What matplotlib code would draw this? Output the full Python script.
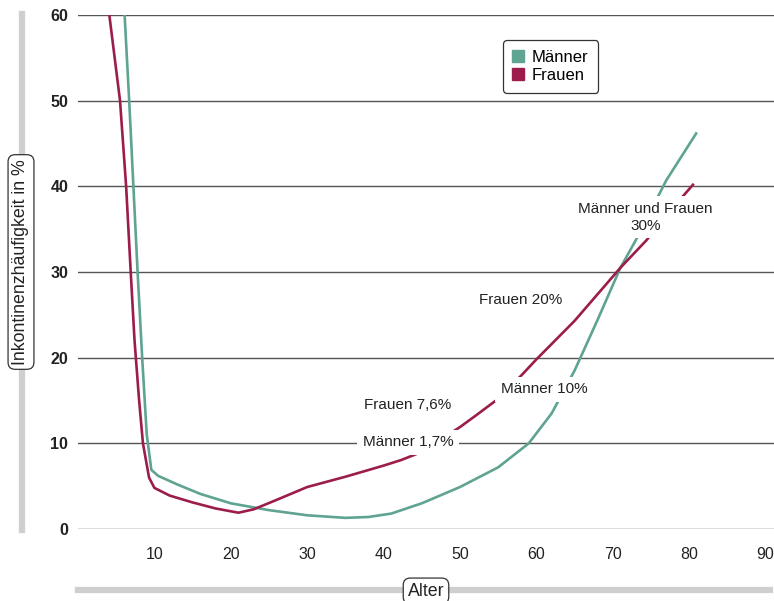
import matplotlib.pyplot as plt
from matplotlib.lines import Line2D

plt.rcParams['font.family'] = ['Liberation Sans', 'DejaVu Sans']

# Männer curve (age, prevalence %)
maenner_alter = [6.1, 6.7, 7.25, 7.8, 8.4, 9.0, 9.6, 10.5, 13, 16, 20, 25, 30, 35, 38, 41,
                 45, 50, 55, 59, 62, 65, 68, 71, 73, 77, 81]
maenner_wert = [60, 50, 40, 30, 20, 11, 6.9, 6.2, 5.2, 4.1, 3.0, 2.2, 1.6, 1.3, 1.4, 1.8,
                3.0, 4.9, 7.2, 10.0, 13.5, 18.5, 24.4, 30.5, 33.7, 40.7, 46.3]

# Frauen curve
frauen_alter = [4.1, 5.5, 6.3, 6.9, 7.4, 8.0, 8.5, 9.3, 10, 12, 15, 18, 21, 23, 26, 30, 35,
                40, 42.3, 45, 47, 50, 52, 55, 58, 60, 62, 65, 68, 71, 74.4, 77, 80.6]
frauen_wert = [60, 50, 40, 30, 22, 15, 10, 6, 4.8, 3.9, 3.1, 2.4, 1.9, 2.3, 3.4, 4.9, 6.1,
               7.4, 8.05, 9.0, 10.2, 11.9, 13.2, 15.2, 17.9, 19.8, 21.6, 24.3, 27.4, 30.5,
               33.7, 36.6, 40.3]

x_ticks = [10, 20, 30, 40, 50, 60, 70, 80, 90]
y_ticks = [0, 10, 20, 30, 40, 50, 60]

teal = '#5fa392'
maroon = '#9c1c4c'

fig = plt.figure(figsize=(7.74, 6.01), dpi=100)
ax = fig.add_axes([78 / 774, 1 - 529 / 601, 696 / 774, 514 / 601])

for y in y_ticks:
    ax.axhline(y, color='#555555', lw=1.0, zorder=1)

ax.plot(maenner_alter, maenner_wert, color=teal, lw=1.9, zorder=2, solid_capstyle='butt')
ax.plot(frauen_alter, frauen_wert, color=maroon, lw=1.9, zorder=3, solid_capstyle='butt')

ax.set_xlim(0, 91.1)
ax.set_ylim(0, 60)
for s in ax.spines.values():
    s.set_visible(False)
ax.set_xticks(x_ticks)
ax.set_yticks(y_ticks)
ax.tick_params(length=0, labelsize=11.5, colors='#222222')
ax.tick_params(axis='x', pad=13)
ax.tick_params(axis='y', pad=7)
for lab in ax.get_yticklabels():
    lab.set_fontweight('bold')

box = dict(facecolor='white', edgecolor='none', pad=4)
kw = dict(fontsize=11, color='#222222', ha='center', va='center', zorder=5, bbox=box)
ax.text(43.2, 10.15, 'Männer 1,7%', **kw)
ax.text(43.2, 14.5, 'Frauen 7,6%', **kw)
ax.text(61.0, 16.3, 'Männer 10%', **kw)
ax.text(57.9, 26.7, 'Frauen 20%', **kw)
ax.text(74.3, 36.4, 'Männer und Frauen\n30%', linespacing=1.3, **kw)

handles = [Line2D([], [], ls='none', marker='s', markersize=8, color=teal),
           Line2D([], [], ls='none', marker='s', markersize=8, color=maroon)]
leg = ax.legend(handles, ['Männer', 'Frauen'], loc='upper left', bbox_to_anchor=(0.611, 0.951),
                borderaxespad=0, fontsize=12, handlelength=0.6, handletextpad=0.5,
                labelspacing=0.15, borderpad=0.6, fancybox=True, edgecolor='#333333',
                framealpha=1)
leg.get_frame().set_linewidth(0.9)
leg._legend_box.align = 'left'
leg.set_zorder(6)

# gray axis bars with boxed titles
fig.add_artist(Line2D([22 / 774, 22 / 774], [1 - 14 / 601, 1 - 530 / 601], color='#cfcfcf', lw=4.5))
fig.add_artist(Line2D([78 / 774, 770 / 774], [1 - 590 / 601, 1 - 590 / 601], color='#cfcfcf', lw=4.5))

tbox = dict(boxstyle='round,pad=0.25,rounding_size=0.4', facecolor='white', edgecolor='#333333', lw=0.9)
fig.text(21 / 774, 1 - 262 / 601, 'Inkontinenzhäufigkeit in %', rotation=90, fontsize=12.8,
         ha='center', va='center', color='#222222', bbox=tbox)
fig.text(426 / 774, 1 - 591 / 601, 'Alter', fontsize=12.8, ha='center', va='center',
         color='#222222', bbox=tbox)

fig.savefig('out.png', dpi=100)
